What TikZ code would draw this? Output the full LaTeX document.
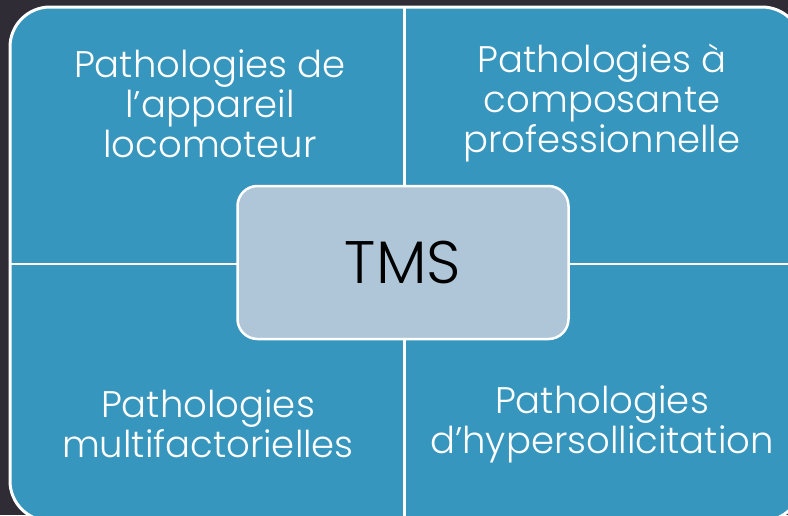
\documentclass[tikz,border=0pt]{standalone}
\usepackage{fontspec}
\setmainfont{Poppins Light}
\definecolor{bgdark}{RGB}{47,44,54}
\definecolor{quadblue}{RGB}{55,150,189}
\definecolor{centerfill}{RGB}{175,198,216}
\begin{document}
\begin{tikzpicture}[x=1pt,y=-1pt,
  quadtext/.style={text=white, align=center, font=\fontsize{37}{40}\selectfont, inner sep=0pt},
  centerbox/.style={draw=white, line width=2.5pt, fill=centerfill, rounded corners=20pt, minimum width=331pt, minimum height=153pt, font=\fontsize{60}{70}\selectfont, text=black}]
\useasboundingbox (0,0) rectangle (788,515);
\fill[bgdark] (0,0) rectangle (788,515);
\begin{scope}
\clip (0,0) rectangle (788,515);
\draw[white, line width=3pt, fill=quadblue, rounded corners=40pt] (10,7) rectangle (802,521);
\coordinate (vtop) at (404.5,7);
\coordinate (vbot) at (404.5,521);
\coordinate (hleft) at (10,264);
\coordinate (hright) at (802,264);
\draw[white, line width=2.5pt] (vtop) -- (vbot);
\draw[white, line width=2.5pt] (hleft) -- (hright);
\end{scope}
\node[centerbox] (tms) at (403,262.5) {TMS};
\node[quadtext] (tl) at (210,103) {\vphantom{à}Pathologies de\\l’appareil\\locomoteur};
\node[quadtext] (tr) at (602,103) {\vphantom{à}Pathologies à\\composante\\professionnelle};
\node[quadtext] (bl) at (208,424) {Pathologies\\multifactorielles};
\node[quadtext] (br) at (602,424) {Pathologies\\d’hypersollicitation};
\end{tikzpicture}
\end{document}
